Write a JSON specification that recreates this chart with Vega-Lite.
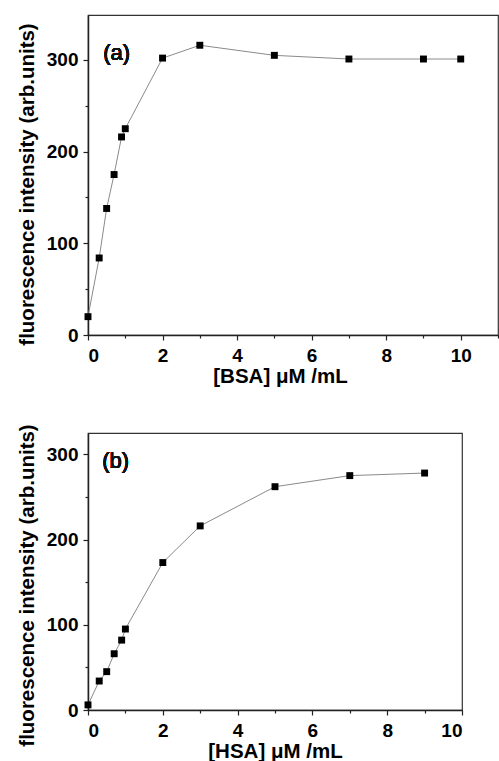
{
  "$schema": "https://vega.github.io/schema/vega-lite/v6.json",
  "padding": {"left": 16, "top": 14, "right": 0, "bottom": 0},
  "spacing": 35,
  "config": {
    "font": "Liberation Sans",
    "view": {"stroke": "#333", "strokeWidth": 1.2},
    "axis": {
      "grid": false,
      "domainColor": "#222",
      "domainWidth": 1.5,
      "tickColor": "#222",
      "tickWidth": 1.2,
      "labelFont": "Liberation Sans",
      "labelFontWeight": "bold",
      "labelFontSize": 19,
      "labelColor": "#000",
      "titleFont": "Liberation Sans",
      "titleFontWeight": "bold",
      "titleFontSize": 20.5,
      "titleColor": "#000"
    },
    "axisX": {"labelPadding": 6, "titlePadding": 1},
    "axisY": {"labelPadding": 5, "titlePadding": 9}
  },
  "datasets": {
    "bsa": [
      {"conc": 0, "intensity": 20},
      {"conc": 0.3, "intensity": 84},
      {"conc": 0.5, "intensity": 138},
      {"conc": 0.7, "intensity": 175},
      {"conc": 0.9, "intensity": 216},
      {"conc": 1, "intensity": 225},
      {"conc": 2, "intensity": 302},
      {"conc": 3, "intensity": 316},
      {"conc": 5, "intensity": 305},
      {"conc": 7, "intensity": 301},
      {"conc": 9, "intensity": 301},
      {"conc": 10, "intensity": 301}
    ],
    "hsa": [
      {"conc": 0, "intensity": 6},
      {"conc": 0.3, "intensity": 34},
      {"conc": 0.5, "intensity": 45},
      {"conc": 0.7, "intensity": 66},
      {"conc": 0.9, "intensity": 82},
      {"conc": 1, "intensity": 95},
      {"conc": 2, "intensity": 173},
      {"conc": 3, "intensity": 216},
      {"conc": 5, "intensity": 262},
      {"conc": 7, "intensity": 275},
      {"conc": 9, "intensity": 278}
    ]
  },
  "vconcat": [
    {
      "width": 410,
      "height": 320,
      "data": {"name": "bsa"},
      "encoding": {
        "x": {
          "field": "conc",
          "type": "quantitative",
          "title": "[BSA] μM /mL",
          "scale": {"domain": [0, 11], "nice": false},
          "axis": {
            "values": [0, 1, 2, 3, 4, 5, 6, 7, 8, 9, 10, 11],
            "labelExpr": "datum.value % 2 === 0 && datum.value < 11 ? datum.label : ''",
            "tickSize": {"condition": {"test": "datum.value % 2 === 0", "value": 5}, "value": 3},
            "titleX": 192
          }
        },
        "y": {
          "field": "intensity",
          "type": "quantitative",
          "title": "fluorescence intensity (arb.units)",
          "scale": {"domain": [0, 349], "nice": false},
          "axis": {
            "values": [0, 50, 100, 150, 200, 250, 300],
            "labelExpr": "datum.value % 100 === 0 ? datum.label : ''",
            "tickSize": {"condition": {"test": "datum.value % 100 === 0", "value": 5}, "value": 3},
            "titleY": 169
          }
        }
      },
      "layer": [
        {"mark": {"type": "line", "color": "#8a8a8a", "strokeWidth": 1}},
        {"mark": {"type": "square", "color": "#000", "size": 48, "opacity": 1, "filled": true}},
        {
          "mark": {"type": "text", "text": "(a)", "fontSize": 22, "fontWeight": "normal", "font": "Liberation Sans", "color": "#111"},
          "encoding": {"x": {"datum": 0.77}, "y": {"datum": 308}}
        }
      ]
    },
    {
      "width": 374,
      "height": 277,
      "data": {"name": "hsa"},
      "encoding": {
        "x": {
          "field": "conc",
          "type": "quantitative",
          "title": "[HSA] μM /mL",
          "scale": {"domain": [0, 10], "nice": false},
          "axis": {
            "values": [0, 1, 2, 3, 4, 5, 6, 7, 8, 9, 10],
            "labelExpr": "datum.value % 2 === 0 ? datum.label : ''",
            "tickSize": {"condition": {"test": "datum.value % 2 === 0", "value": 5}, "value": 3}
          }
        },
        "y": {
          "field": "intensity",
          "type": "quantitative",
          "title": "fluorescence intensity (arb.units)",
          "scale": {"domain": [0, 325], "nice": false},
          "axis": {
            "values": [0, 50, 100, 150, 200, 250, 300],
            "labelExpr": "datum.value % 100 === 0 ? datum.label : ''",
            "tickSize": {"condition": {"test": "datum.value % 100 === 0", "value": 5}, "value": 3},
            "titleY": 152
          }
        }
      },
      "layer": [
        {"mark": {"type": "line", "color": "#8a8a8a", "strokeWidth": 1}},
        {"mark": {"type": "square", "color": "#000", "size": 48, "opacity": 1, "filled": true}},
        {
          "mark": {"type": "text", "text": "(b)", "fontSize": 22, "fontWeight": "normal", "font": "Liberation Sans", "color": "#111"},
          "encoding": {"x": {"datum": 0.74}, "y": {"datum": 292}}
        }
      ]
    }
  ]
}
